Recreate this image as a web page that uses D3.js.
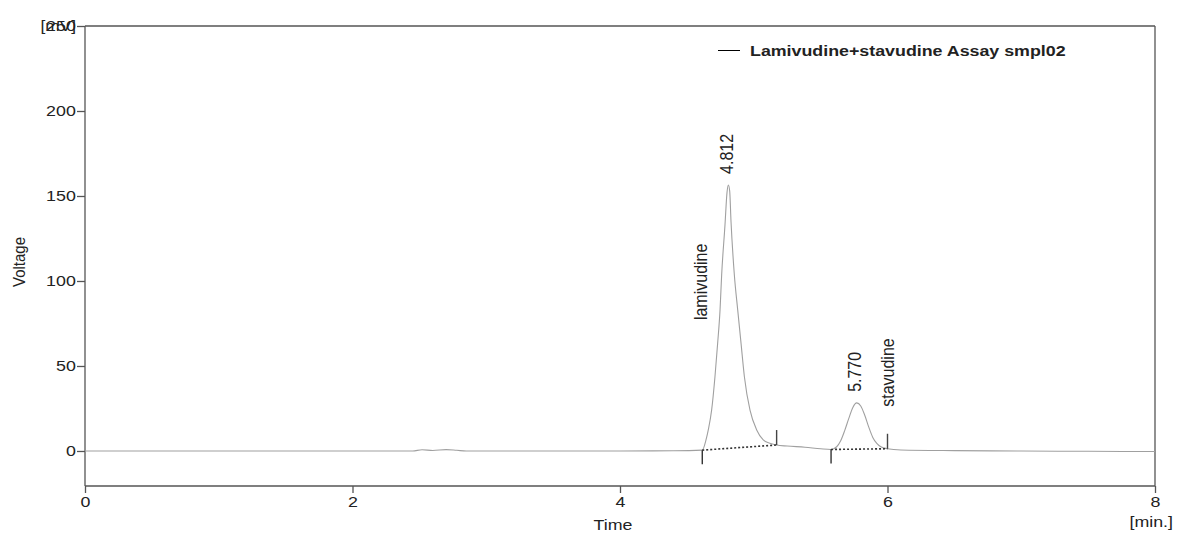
<!DOCTYPE html>
<html><head><meta charset="utf-8">
<script src="https://cdn.jsdelivr.net/npm/d3@7"></script>
<style>
html,body{margin:0;padding:0;background:#fff;}
svg text{font-family:"Liberation Sans",Arial,sans-serif;fill:#222;}
</style></head>
<body><svg id="c" width="1178" height="533"></svg>
<script>
// ---- data ----
const xTicks = [0, 2, 4, 6, 8];
const yTicks = [0, 50, 100, 150, 200, 250];
const seriesName = "Lamivudine+stavudine Assay smpl02";
const timeMin = [0, 0.5, 1.0, 1.5, 2.0, 2.45, 2.52, 2.6, 2.7, 2.78, 2.85, 3.0, 3.5, 4.0, 4.4, 4.615,
  4.643, 4.66, 4.685, 4.71, 4.73, 4.748, 4.76, 4.785, 4.80, 4.81, 4.82, 4.83, 4.855, 4.88, 4.905, 4.93, 4.972, 5.022, 5.071, 5.12, 5.171,
  5.25, 5.383, 5.5, 5.578,
  5.62, 5.65, 5.68, 5.71, 5.74, 5.77, 5.80, 5.83, 5.86, 5.89, 5.92, 5.95, 6.0,
  6.1, 6.5, 7.0, 7.5, 8.0];
const voltage = [0, 0, 0, 0, 0, 0, 0.7, 0.3, 0.8, 0.4, 0, 0, 0, 0, 0.1, 0.5,
  6.5, 12.4, 24, 43.7, 63.3, 83, 103.5, 133, 152, 156.5, 153, 135, 103.5, 83, 63.3, 43.7, 24, 12.4, 6.5, 4.5, 3.5,
  2.9, 2.2, 1.3, 0.9,
  2.5, 6, 12, 19, 25.5, 28.3, 26.5, 21, 14, 8, 4.5, 2.5, 1.3,
  0.6, 0.2, 0, -0.2, -0.3];
const peakRT = ["4.812", "5.770"];
const peakApexTime = [4.812, 5.770];
const peakApexVolt = [156.5, 28.3];
const peakNames = ["lamivudine", "stavudine"];
const nameTime = [4.60, 6.0];
const nameVolt = [77, 26];
const intStartTime = [4.615, 5.578];
const intStartVolt = [0.5, 0.9];
const intEndTime = [5.171, 6.0];
const intEndVolt = [3.5, 1.3];

// ---- layout ----
const svg = d3.select("#c");
const L = 85, R = 1155, T = 26, B = 486;
const SX = 1.15; // horizontal stretch of the reference
const x = d3.scaleLinear().domain([0, 8]).range([L, R]);
const y = d3.scaleLinear().domain([-20.6, 250]).range([B, T]);
const axisColor = "#555";

// frame top & right
svg.append("line").attr("x1", L).attr("x2", R).attr("y1", T).attr("y2", T).attr("stroke", axisColor).attr("stroke-width", 1.3);
svg.append("line").attr("x1", R).attr("x2", R).attr("y1", T).attr("y2", B).attr("stroke", axisColor).attr("stroke-width", 1.3);

// axes
const ya = svg.append("g").attr("transform", `translate(${L},0)`)
  .call(d3.axisLeft(y).tickValues(yTicks).tickSize(8).tickPadding(0).tickSizeOuter(0));
const xa = svg.append("g").attr("transform", `translate(0,${B})`)
  .call(d3.axisBottom(x).tickValues(xTicks).tickSize(7).tickPadding(3).tickSizeOuter(0));
[ya, xa].forEach(g => {
  g.select(".domain").attr("stroke", axisColor).attr("stroke-width", 1.3);
  g.selectAll(".tick line").attr("stroke", axisColor).attr("stroke-width", 1.3);
  g.selectAll(".tick text").attr("font-size", 15.5).attr("fill", "#222")
    .attr("font-family", '"Liberation Sans",Arial,sans-serif')
    .attr("transform", `scale(${SX},1)`);
});
ya.select(".domain").attr("d", `M0,${B}V${T}`);
xa.select(".domain").attr("d", `M${L},0H${R}`);

function stext(txt, px, py, opts = {}) {
  const t = svg.append("text")
    .attr("transform", `translate(${px},${py}) scale(${SX},1)` + (opts.rot ? " rotate(-90)" : ""))
    .attr("font-size", opts.size || 15)
    .attr("text-anchor", opts.anchor || "start")
    .attr("font-weight", opts.bold ? "bold" : null)
    .text(txt);
  if (opts.dy) t.attr("dy", opts.dy);
  return t;
}

// axis titles
stext("[mV]", 76, 31, { anchor: "end", size: 15 });
stext("Voltage", 19, 262, { rot: true, anchor: "middle", dy: "0.35em" });
stext("Time", 613, 530, { anchor: "middle", size: 15.5 });
stext("[min.]", 1173, 527, { anchor: "end", size: 15.5 });

// legend
svg.append("line").attr("x1", 718).attr("x2", 740).attr("y1", 50.5).attr("y2", 50.5).attr("stroke", "#000").attr("stroke-width", 1);
stext(seriesName, 750, 55.5, { bold: true, size: 15.5 }).attr("fill", "#111");

// trace
const pts = timeMin.map((t, i) => [t, voltage[i]]);
svg.append("path").datum(pts)
  .attr("d", d3.line().x(d => x(d[0])).y(d => y(d[1])).curve(d3.curveMonotoneX))
  .attr("fill", "none").attr("stroke", "#a0a0a0").attr("stroke-width", 1.1);

// integration baselines & markers
intStartTime.forEach((t0, i) => {
  const x0 = x(t0), y0 = y(intStartVolt[i]), x1 = x(intEndTime[i]), y1 = y(intEndVolt[i]);
  svg.append("line").attr("x1", x0).attr("y1", y0).attr("x2", x1).attr("y2", y1)
    .attr("stroke", "#333").attr("stroke-width", 1.6).attr("stroke-dasharray", "2,2");
  svg.append("line").attr("x1", x0).attr("x2", x0).attr("y1", y0).attr("y2", y0 + 14)
    .attr("stroke", "#222").attr("stroke-width", 1.3);
  svg.append("line").attr("x1", x1).attr("x2", x1).attr("y1", y1).attr("y2", y1 - 15)
    .attr("stroke", "#444").attr("stroke-width", 1.4);
});

// peak labels
peakRT.forEach((lab, i) => {
  stext(lab, x(peakApexTime[i]) - 2, y(peakApexVolt[i]) - 11, { rot: true, size: 16, dy: "0.35em" });
  stext(peakNames[i], x(nameTime[i]), y(nameVolt[i]), { rot: true, size: 16, dy: "0.35em" });
});
</script></body></html>
